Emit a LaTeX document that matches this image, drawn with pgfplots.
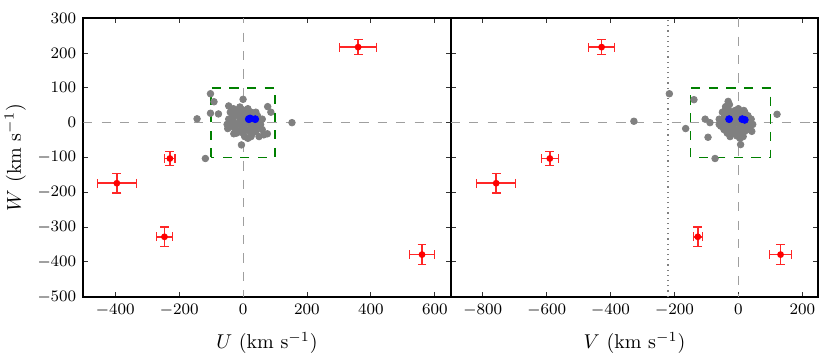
\documentclass[border=0pt]{standalone}
\usepackage{pgfplots}
\pgfplotsset{compat=1.18}
\usepackage{pgfplotstable}

% gray stars, U-W plane
\pgfplotstableread{
U W
-102 83
-91 60
0 67
-144 11
-102 27
-77 25
153 0
-118 -103
-5 -64
77 46
87 30
76 -32
50 -40
-29 -32
-48 -17
-45 48
65 -35
-40 30
-35 15
-30 40
-25 20
-20 35
-15 25
-10 45
-5 30
0 15
5 35
10 25
15 40
20 20
25 30
30 15
35 25
40 10
45 20
50 5
55 -5
-40 0
-35 -10
-30 5
-25 -20
-20 -5
-15 -25
-10 0
-5 -15
0 -30
5 -5
10 -20
15 0
20 -25
25 -10
30 -30
35 -15
40 -25
45 -10
60 -20
-45 10
-50 -5
0 5
10 10
20 5
-10 15
30 0
5 -40
15 -45
25 -40
-20 -30
60 10
40 30
}\grayUW

% gray stars, V-W plane
\pgfplotstableread{
V W
-216 83
-139 66
-32 61
-40 46
17 35
121 24
-327 4
-104 10
-89 0
-165 -17
-95 -42
-73 -103
7 -63
-26 -40
42 -25
45 -5
35 -15
-50 30
-45 15
-40 38
-35 20
-30 35
-25 25
-28 52
-20 30
-15 15
-10 35
-5 25
0 40
5 20
10 30
15 15
20 25
25 10
30 20
30 5
35 -5
-55 0
-55 -10
-50 5
-45 -20
-40 -5
-35 -25
-30 0
-25 -15
-20 -30
-15 -5
-10 -20
-5 0
0 -25
5 -10
10 -30
15 -15
20 -25
25 -10
35 -20
-60 10
-60 -5
-20 5
-10 10
0 5
-30 15
10 0
-5 -38
5 -45
15 -40
-35 -30
40 10
20 30
}\grayVW

% red stars with errors
\pgfplotstableread{
U W eU eW
360 217 57 21
-229 -103 16 20
-395 -174 61 28
-246 -328 25 28
560 -379 40 28
}\redUW
\pgfplotstableread{
V W eV eW
-428 217 40 21
-590 -103 26 20
-758 -174 61 28
-127 -328 14 28
132 -379 34 28
}\redVW

\pgfplotsset{
  panel/.style={
    scale only axis,
    width=183.75pt, height=139.25pt,
    ymin=-500, ymax=300,
    ytick={-500,-400,...,300},
    tick align=inside,
    xtick pos=both, ytick pos=both,
    major tick length=2.5pt,
    axis line style={line width=0.85pt},
    tick style={line width=0.4pt, black!80},
    tick label style={font=\footnotesize},
    label style={font=\normalsize},
    xlabel style={at={(axis description cs:0.5,-0.165)}, anchor=center},
    ylabel style={at={(axis description cs:-0.185,0.5)}, anchor=center},
  },
  refline/.style={gray!75, line width=0.75pt, dash pattern=on 4.6pt off 4.6pt, forget plot},
  box/.style={green!50!black, line width=0.75pt, dash pattern=on 4.6pt off 4.2pt, forget plot},
  graypts/.style={only marks, mark=*, mark size=1.65pt, color=gray, mark options={draw=gray, fill=gray}},
  bluepts/.style={only marks, mark=*, mark size=1.75pt, color=blue, mark options={draw=blue, fill=blue}},
  redpts/.style={only marks, mark=*, mark size=1.3pt, red, line width=0.75pt,
    error bars/.cd, x dir=both, x explicit, y dir=both, y explicit,
    error bar style={line width=0.75pt, red!85},
    error mark options={rotate=90, line width=0.6pt, red!85, mark size=2.2pt}},
}

\begin{document}
\begin{tikzpicture}
\path[use as bounding box] (-41.65pt,-31.15pt) rectangle (373.35pt,148.35pt);
\begin{axis}[panel, name=left, at={(0,0)}, anchor=south west,
  xmin=-500, xmax=650,
  xtick={-400,-200,...,600},
  xlabel={$U$ (km s$^{-1}$)},
  ylabel={$W$ (km s$^{-1}$)},
]
\addplot[refline] coordinates {(-500,0) (650,0)};
\addplot[refline, dash phase=2pt] coordinates {(1,300) (1,-500)};
\addplot[box] coordinates {(-100,-100) (-100,100) (100,100) (100,-100) (-100,-100)};
\addplot[graypts] table[x=U, y=W] {\grayUW};
\addplot[bluepts] coordinates {(18,10) (22,12) (38,10)};
\addplot[redpts] table[x=U, y=W, x error=eU, y error=eW] {\redUW};
\end{axis}
\begin{axis}[panel, name=right, at={(left.south east)}, anchor=south west,
  xmin=-900, xmax=250,
  xtick={-800,-600,...,200},
  yticklabels={},
  xlabel={$V$ (km s$^{-1}$)},
]
\addplot[refline] coordinates {(-900,0) (250,0)};
\addplot[refline] coordinates {(0,300) (0,-500)};
\addplot[gray, line width=0.6pt, dotted, forget plot] coordinates {(-220,-500) (-220,300)};
\addplot[box] coordinates {(-150,-100) (-150,100) (100,100) (100,-100) (-150,-100)};
\addplot[graypts] table[x=V, y=W] {\grayVW};
\addplot[bluepts] coordinates {(-29,10) (12,10) (20,8)};
\addplot[redpts] table[x=V, y=W, x error=eV, y error=eW] {\redVW};
\end{axis}
\end{tikzpicture}
\end{document}
